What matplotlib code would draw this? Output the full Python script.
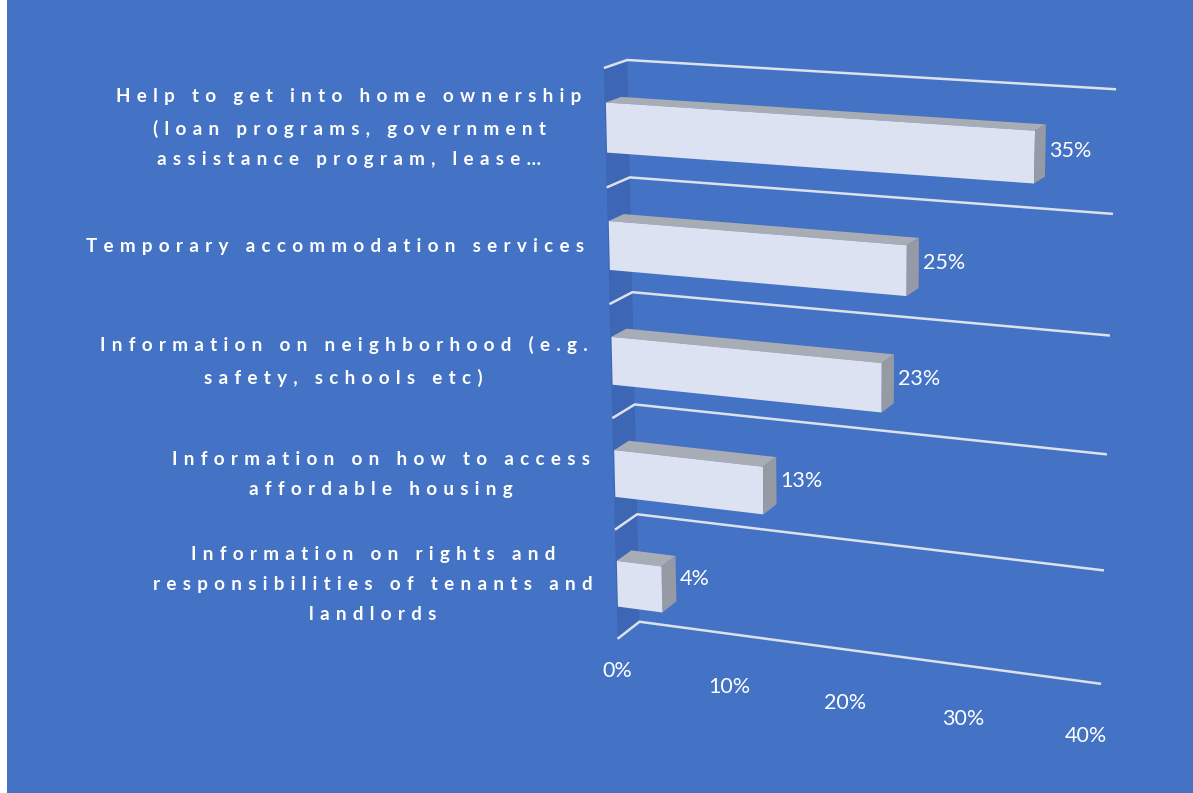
import numpy as np
import matplotlib
matplotlib.use("Agg")
import matplotlib.pyplot as plt
from matplotlib.patches import Rectangle
from mpl_toolkits.mplot3d import proj3d
from mpl_toolkits.mplot3d.art3d import Poly3DCollection

# ---------------- data ----------------
categories = [
    "Help to get into home ownership\n(loan programs, government\nassistance program, lease\u2026",
    "Temporary accommodation services",
    "Information on neighborhood (e.g.\nsafety, schools etc)",
    "Information on how to access\naffordable housing",
    "Information on rights and\nresponsibilities of tenants and\nlandlords",
]
values = [0.35, 0.25, 0.23, 0.13, 0.04]
value_labels = ["35%", "25%", "23%", "13%", "4%"]
ticks = [0.0, 0.1, 0.2, 0.3, 0.4]
tick_labels = ["0%", "10%", "20%", "30%", "40%"]

# ---------------- style ----------------
BG = "#4472C4"
WALL = "#3D67B4"
GRID = "#DCE1EE"
FRONT = "#DCE2F1"
TOP = "#A8ACB4"
RIGHT = "#959AA4"
FONT = ["Lato", "DejaVu Sans"]

def spaced(s):
    return "\n".join("\u2004".join(line) for line in s.split("\n"))

fig = plt.figure(figsize=(11.93, 7.93), dpi=100, facecolor=BG)
fig.patches.append(Rectangle((0, 0), 7 / 1193, 1, transform=fig.transFigure,
                             facecolor="white", edgecolor="none", zorder=-5))

ax = fig.add_axes([0.3745, 0.0098, 0.665, 1.0], projection="3d",
                  computed_zorder=False)
ax.set_proj_type("persp", focal_length=0.65)
ax.view_init(elev=15.4, azim=-69.5)
ax.set_box_aspect((0.93, 0.1, 1.1), zoom=0.97)
n = len(categories)
xmax = ticks[-1]
ax.set_xlim(0, xmax)
ax.set_ylim(0, 1)
ax.set_zlim(0, n)
ax.set_axis_off()
ax.patch.set_alpha(0)

M = ax.get_proj()

def to2d(x, y, z):
    xp, yp, _ = proj3d.proj_transform(x, y, z, M)
    return xp, yp

# left wall (floor of the bar chart)
wall = [[(0, 0, 0), (0, 1, 0), (0, 1, n), (0, 0, n)]]
ax.add_collection3d(Poly3DCollection(wall, facecolors=WALL, edgecolors="none", zorder=1))

# gridlines at category boundaries
for k in range(n + 1):
    ax.plot([0, 0, xmax], [0, 1, 1], [k, k, k], color=GRID, lw=1.8, zorder=2,
            solid_capstyle="butt")

# bars
y0, y1 = 0.05, 0.7
half = 0.21
for i, v in enumerate(values):
    zc = n - 1 - i + 0.5
    z0, z1 = zc - half, zc + half
    front = [(0, y0, z0), (v, y0, z0), (v, y0, z1), (0, y0, z1)]
    top = [(0, y0, z1), (v, y0, z1), (v, y1, z1), (0, y1, z1)]
    right = [(v, y0, z0), (v, y1, z0), (v, y1, z1), (v, y0, z1)]
    pc = Poly3DCollection([front, top, right], facecolors=[FRONT, TOP, RIGHT],
                          edgecolors="none", zorder=3)
    ax.add_collection3d(pc)
    ax.annotate(value_labels[i], xy=to2d(v, y1, zc), xycoords="data",
                xytext=(3, 0), textcoords="offset points",
                color="white", fontsize=15.5, family=FONT,
                ha="left", va="center", zorder=5, annotation_clip=False)
    ax.annotate(spaced(categories[i]), xy=to2d(0, 0, zc), xycoords="data",
                xytext=(-17, 0), textcoords="offset points",
                color="white", fontsize=13.6, family=FONT, fontweight="bold",
                ha="right", va="center", multialignment="center",
                linespacing=1.95, zorder=5, annotation_clip=False)

# value axis tick labels
for t, lab in zip(ticks, tick_labels):
    ax.annotate(lab, xy=to2d(t, 0, 0), xycoords="data",
                xytext=(0, -23.5), textcoords="offset points",
                color="white", fontsize=15.5, family=FONT,
                ha="center", va="center", zorder=5, annotation_clip=False)

fig.savefig("out.png", dpi=100, facecolor=BG)
